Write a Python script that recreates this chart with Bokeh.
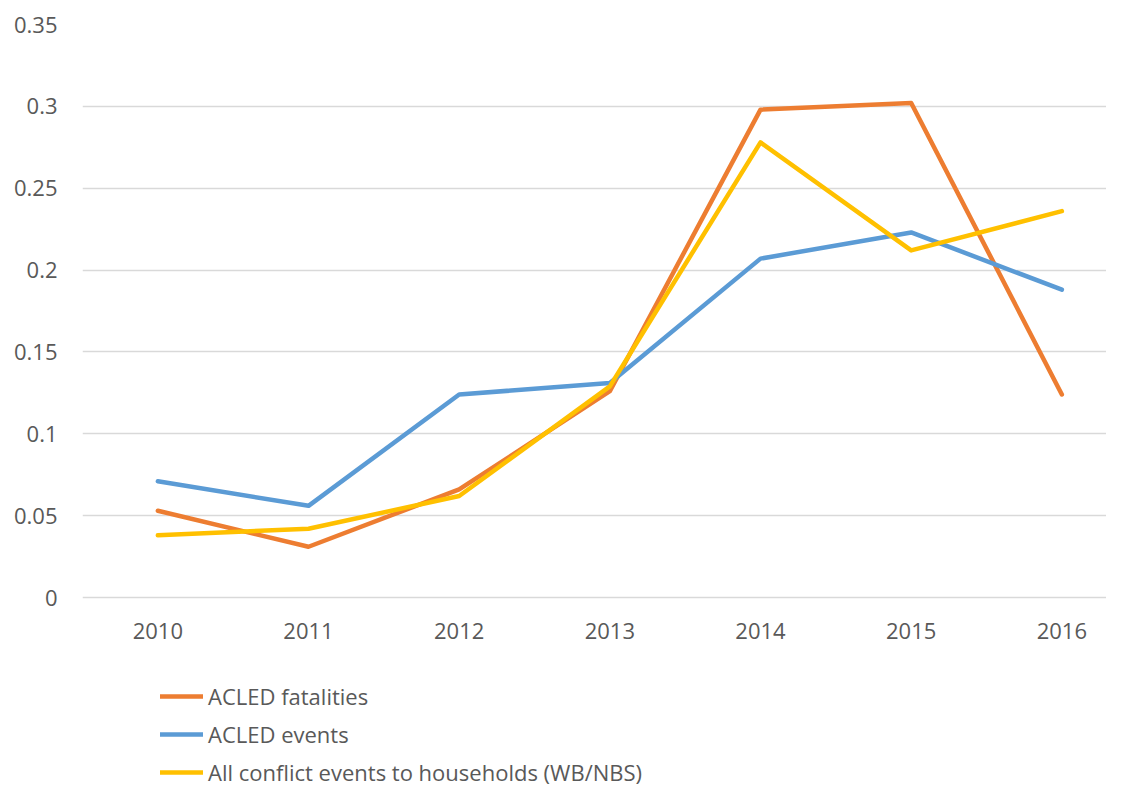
from bokeh.plotting import figure
from bokeh.models import Legend, LegendItem, FixedTicker, NumeralTickFormatter, Range1d, ColumnDataSource
from bokeh.core.properties import value
from bokeh.embed import file_html
from bokeh.resources import INLINE

years = [2010, 2011, 2012, 2013, 2014, 2015, 2016]
year_labels = ["2010", "2011", "2012", "2013", "2014", "2015", "2016"]
acled_fatalities = [0.053, 0.031, 0.066, 0.126, 0.298, 0.302, 0.124]
acled_events = [0.071, 0.056, 0.124, 0.131, 0.207, 0.223, 0.188]
all_conflict = [0.038, 0.042, 0.062, 0.129, 0.278, 0.212, 0.236]
y_ticks = [0, 0.05, 0.1, 0.15, 0.2, 0.25, 0.3, 0.35]

series_names = ["ACLED fatalities", "ACLED events", "All conflict events to households (WB/NBS)"]
series_colors = ["#ED7D31", "#5B9BD5", "#FFC000"]

FONT = "Open Sans"
TXT = "#595959"

W, H = 1106, 787
TOP, LEFT = 24, 82
ZERO_PX = 597  # screen y of value 0
px_per_unit = (ZERO_PX - TOP) / 0.35
y_min = -(H - ZERO_PX) / px_per_unit

p = figure(width=W, height=H, output_backend="svg", toolbar_location=None,
           x_axis_location=None,
           x_range=Range1d(2009.5, 2009.5 + (W - LEFT) / 150.67), y_range=Range1d(y_min, 0.35),
           min_border_left=LEFT, min_border_right=0, min_border_top=TOP, min_border_bottom=0)
p.outline_line_color = None
p.background_fill_color = "white"
p.border_fill_color = "white"

p.xgrid.grid_line_color = None
p.ygrid.grid_line_color = "#D9D9D9"
p.ygrid.grid_line_width = 1.5

p.yaxis.ticker = FixedTicker(ticks=y_ticks)
p.yaxis.formatter = NumeralTickFormatter(format="0.[00]")
ax = p.yaxis[0]
ax.axis_line_color = None
ax.major_tick_line_color = None
ax.minor_tick_line_color = None
ax.major_tick_out = 0
ax.major_tick_in = 0
ax.major_label_text_font = FONT
ax.major_label_text_font_size = "22px"
ax.major_label_text_color = TXT
ax.major_label_standoff = 25

# x tick labels (category years) placed below the zero line
src = ColumnDataSource(dict(x=years, y=[0] * len(years), t=year_labels))
p.text(x="x", y="y", text="t", source=src, y_offset=33, text_align="center", text_baseline="middle",
       text_font=value(FONT), text_font_size="22px", text_color=TXT)

renderers = []
for vals, col in zip([acled_fatalities, acled_events, all_conflict], series_colors):
    r = p.line(years, vals, line_color=col, line_width=4.5, line_join="round", line_cap="round")
    renderers.append(r)

legend = Legend(items=[LegendItem(label=n, renderers=[r]) for n, r in zip(series_names, renderers)],
                location=(78, 0), orientation="vertical",
                glyph_width=43, glyph_height=30, label_height=30, spacing=8,
                label_standoff=5, padding=0, margin=0,
                label_text_font=FONT, label_text_font_size="22px", label_text_color=TXT,
                border_line_color=None, background_fill_alpha=0)
p.add_layout(legend, "center")

open("out.html", "w").write(file_html(p, INLINE))
